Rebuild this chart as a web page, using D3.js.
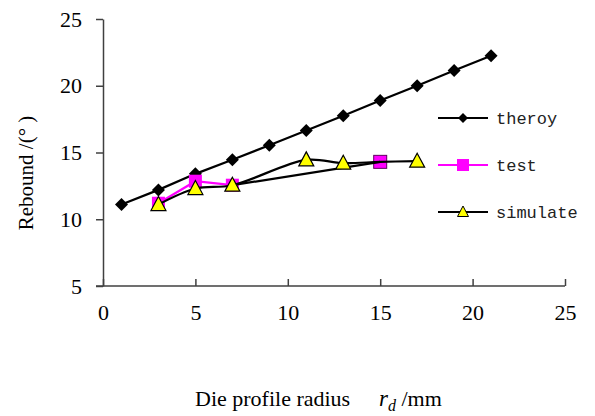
<!DOCTYPE html>
<html>
<head>
<meta charset="utf-8">
<script src="https://cdn.jsdelivr.net/npm/d3@7"></script>
<style>
  body { margin: 0; background: #fff; }
  svg { display: block; }
  .eje text { font-family: 'Liberation Serif', 'Times New Roman', serif; font-size: 22px; fill: #000; }
  .eje path, .eje line { stroke: #404040; stroke-width: 1.5px; }
  .leyenda text { font-family: 'Liberation Mono', monospace; font-size: 17px; fill: #222; }
</style>
</head>
<body>
<div id="graf"></div>
<script>
// datos
xTheroy = [1, 3, 5, 7, 9, 11, 13, 15, 17, 19, 21]
yTheroy = [11.1, 12.2, 13.4, 14.45, 15.55, 16.65, 17.75, 18.9, 20.0, 21.15, 22.25]

// test: solo 3-5-7 van unidos
xTest = [3, 5, 7, 15]
yTest = [11.2, 12.85, 12.55, 14.3]

// simulate: curva suavizada + tramo recto 7 -> 15
xSimulate = [3, 5, 7, 11, 13, 15, 17]
ySimulate = [11.1, 12.3, 12.55, 14.45, 14.2, 14.3, 14.35]
xTramo = [7, 15]
yTramo = [12.55, 14.3]

xTicks = [0, 5, 10, 15, 20, 25]
yTicks = [5, 10, 15, 20, 25]
series = ['theroy', 'test', 'simulate']

// configuracion de margenes
ancho_total = 595
alto_total = 416
margins = { top: 19, left: 103, right: 30, bottom: 130 }
ancho = 565 - margins.left
alto = 286 - margins.top

svg = d3.select('#graf').append('svg')
  .attr('width', ancho_total)
  .attr('height', alto_total)

g = svg.append('g')
  .attr('transform', `translate(${margins.left}, ${margins.top})`)

// escalas
x = d3.scaleLinear().domain([0, 25]).range([0, ancho])
y = d3.scaleLinear().domain([5, 25]).range([alto, 0])

// ejes
xAxisGroup = g.append('g')
  .attr('class', 'eje')
  .attr('transform', `translate(0, ${alto})`)
  .call(d3.axisBottom(x).tickValues(xTicks).tickSizeInner(-7).tickSizeOuter(0).tickPadding(18))
xAxisGroup.select('.domain').attr('d', `M-7,0H${ancho}`)

yAxisGroup = g.append('g')
  .attr('class', 'eje')
  .call(d3.axisLeft(y).tickValues(yTicks).tickSizeInner(7).tickSizeOuter(0).tickPadding(14))

// titulos
svg.append('text')
  .attr('transform', `translate(33, 173) rotate(-90)`)
  .attr('text-anchor', 'middle')
  .style('font-family', "'Liberation Serif', serif")
  .style('font-size', '21px')
  .text('Rebound /(° )')

xTitle = svg.append('text')
  .attr('x', 195)
  .attr('y', 406)
  .style('font-family', "'Liberation Serif', serif")
  .style('font-size', '22px')
xTitle.append('tspan').text('Die profile radius')
xTitle.append('tspan').attr('x', 379).style('font-style', 'italic').style('font-size', '23px').text('r')
xTitle.append('tspan').style('font-style', 'italic').style('font-size', '16px').attr('dy', 5).text('d')
xTitle.append('tspan').attr('dy', -5).text(' /mm')

// funciones de linea
linea = d3.line().x(d => x(d[0])).y(d => y(d[1]))
lineaSuave = d3.line().x(d => x(d[0])).y(d => y(d[1])).curve(d3.curveCatmullRom.alpha(0.5))

theroy = d3.zip(xTheroy, yTheroy)
test = d3.zip(xTest, yTest)
simulate = d3.zip(xSimulate, ySimulate)
tramo = d3.zip(xTramo, yTramo)

// theroy
g.append('path').datum(theroy)
  .attr('d', linea).attr('fill', 'none').attr('stroke', '#000').attr('stroke-width', 2.2)
g.selectAll('.diamante').data(theroy).enter().append('path')
  .attr('class', 'diamante')
  .attr('d', 'M0,-6.5L6.5,0L0,6.5L-6.5,0Z')
  .attr('transform', d => `translate(${x(d[0])}, ${y(d[1])})`)
  .attr('fill', '#000')

// test
g.append('path').datum(test.slice(0, 3))
  .attr('d', linea).attr('fill', 'none').attr('stroke', '#ff00ff').attr('stroke-width', 2.2)
g.selectAll('.cuadro').data(test).enter().append('rect')
  .attr('class', 'cuadro')
  .attr('x', d => x(d[0]) - 6.5).attr('y', d => y(d[1]) - 6.5)
  .attr('width', 13).attr('height', 13)
  .attr('fill', '#ff00ff')
  .attr('stroke', (d, i) => i === 3 ? '#600060' : 'none')
  .attr('stroke-width', 1)

// simulate
g.append('path').datum(tramo)
  .attr('d', linea).attr('fill', 'none').attr('stroke', '#000').attr('stroke-width', 2.2)
g.append('path').datum(simulate)
  .attr('d', lineaSuave).attr('fill', 'none').attr('stroke', '#000').attr('stroke-width', 2.2)
g.selectAll('.triangulo').data(simulate.filter(d => d[0] !== 15)).enter().append('path')
  .attr('class', 'triangulo')
  .attr('d', 'M0,-8L7.5,6L-7.5,6Z')
  .attr('transform', d => `translate(${x(d[0])}, ${y(d[1])})`)
  .attr('fill', '#ffff00').attr('stroke', '#000').attr('stroke-width', 1.2)

// leyenda
leyenda = svg.append('g').attr('class', 'leyenda').attr('transform', 'translate(438, 118)')
colores = ['#000', '#ff00ff', '#000']
series.forEach((s, i) => {
  item = leyenda.append('g').attr('transform', `translate(0, ${i * 47})`)
  item.append('line').attr('x1', 0).attr('x2', 50)
    .attr('stroke', colores[i]).attr('stroke-width', 2.2)
  if (i === 0) {
    item.append('path').attr('d', 'M0,-5L5,0L0,5L-5,0Z')
      .attr('transform', 'translate(25,0)').attr('fill', '#000')
  } else if (i === 1) {
    item.append('rect').attr('x', 19).attr('y', -6).attr('width', 12).attr('height', 12).attr('fill', '#ff00ff')
  } else {
    item.append('path').attr('d', 'M0,-6L5.5,4.5L-5.5,4.5Z')
      .attr('transform', 'translate(25,0)')
      .attr('fill', '#ffff00').attr('stroke', '#000').attr('stroke-width', 1)
  }
  item.append('text').attr('x', 58).attr('y', 6).text(s)
})
</script>
</body>
</html>
